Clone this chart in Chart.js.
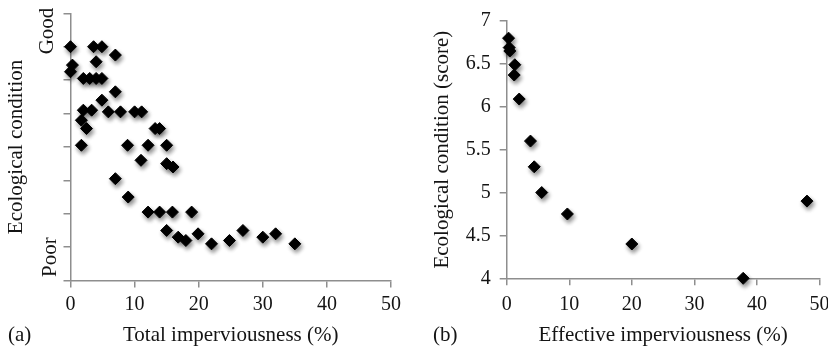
<!DOCTYPE html>
<html><head><meta charset="utf-8">
<script src="https://cdn.jsdelivr.net/npm/chart.js@4"></script>
<style>
html,body{margin:0;padding:0;background:#fff;overflow:hidden;width:828px;height:351px;position:relative;}
#a{position:absolute;left:0;top:0;}
#b{position:absolute;left:410px;top:0;}
</style></head><body>
<canvas id="a" width="410" height="351"></canvas>
<canvas id="b" width="430" height="351"></canvas>
<script>
// Panel (a): total imperviousness vs ecological condition (unitless, Poor..Good)
const totalImperv = [0, 3.6, 4.9, 7, 4, 0.3, 0, 2, 3, 4, 4.9, 7, 4.9, 2, 3.3, 5.9, 7.8, 10, 11.1, 1.7, 2.5, 13.2, 13.9, 1.7, 8.9, 12.1, 15, 11, 15, 16, 7, 9, 12.1, 13.9, 15.9, 18.9, 15, 16.8, 18, 19.9, 22, 24.8, 26.9, 30, 32, 35];
const conditionA  = [7, 7, 7, 6.75, 6.55, 6.45, 6.25, 6.05, 6.05, 6.05, 6.05, 5.65, 5.4, 5.1, 5.1, 5.05, 5.05, 5.05, 5.05, 4.8, 4.55, 4.55, 4.55, 4.05, 4.05, 4.05, 4.05, 3.6, 3.5, 3.4, 3.05, 2.5, 2.05, 2.05, 2.05, 2.05, 1.5, 1.3, 1.2, 1.4, 1.1, 1.2, 1.5, 1.3, 1.4, 1.1];
const conditionLabels = ['Good', 'Poor'];
const conditionLabelValues = [7.47, 0.7];

// Panel (b): effective imperviousness vs ecological condition score
const effectiveImperv = [0.3, 0.4, 0.5, 1.3, 1.2, 2.0, 3.8, 4.4, 5.6, 9.7, 20.0, 37.8, 48.0];
const conditionScore  = [6.8, 6.69, 6.65, 6.49, 6.37, 6.09, 5.6, 5.3, 5.0, 4.75, 4.4, 4.0, 4.9];

const xTickRange = [0, 50];
const xTickStep = 10;
const scoreRange = [4, 7];
const scoreStep = 0.5;
const panelLabels = ['(a)', '(b)'];
const axisTitles = ['Total imperviousness (%)', 'Ecological condition', 'Effective imperviousness (%)', 'Ecological condition (score)'];

const FONT = "'Liberation Serif', 'Times New Roman', serif";
const TXT = '#141414';
const AX = '#8e8e8e';

const shadow = {
  id: 'shadow',
  beforeDatasetsDraw(c) { const x = c.ctx; x.save(); x.shadowColor = 'rgba(0,0,0,0.45)'; x.shadowBlur = 4; x.shadowOffsetX = 1.5; x.shadowOffsetY = 3; },
  afterDatasetsDraw(c) { c.ctx.restore(); }
};

function textPlugin(idx, withCond) {
  return {
    id: 'txt' + idx,
    afterDraw(c) {
      const ctx = c.ctx;
      ctx.save();
      ctx.fillStyle = TXT;
      ctx.font = '21px ' + FONT;
      ctx.textBaseline = 'middle';
      if (withCond) {
        const ys = c.scales.y;
        const offs = [23.5, 20.5];
        ctx.textAlign = 'center';
        conditionLabels.forEach((t, i) => {
          ctx.save();
          ctx.translate(c.chartArea.left - offs[i], ys.getPixelForValue(conditionLabelValues[i]));
          ctx.rotate(-Math.PI / 2);
          ctx.fillText(t, 0, 0);
          ctx.restore();
        });
      }
      ctx.textAlign = 'left';
      ctx.fillText(panelLabels[idx], idx === 0 ? 8 : 23, 335);
      ctx.restore();
    }
  };
}

function axisCommon() {
  return {
    grid: { drawOnChartArea: false, drawTicks: true, tickLength: 7, color: AX, lineWidth: 1.5 },
    border: { color: AX, width: 1.5 }
  };
}

function dataset(xs, ys) {
  return {
    data: xs.map((x, i) => ({ x: x, y: ys[i] })),
    pointStyle: 'rectRot', pointRadius: 6, pointHoverRadius: 6,
    backgroundColor: '#000', borderColor: '#000', borderWidth: 1, clip: false
  };
}

const plainNum = v => String(Number(v));

new Chart(document.getElementById('a'), {
  type: 'scatter',
  data: { datasets: [dataset(totalImperv, conditionA)] },
  options: {
    responsive: false, animation: false, events: [],
    layout: { padding: { top: 13.3, right: 19, left: 0, bottom: 0 } },
    plugins: { legend: { display: false }, tooltip: { enabled: false } },
    scales: {
      x: Object.assign(axisCommon(), {
        type: 'linear', min: xTickRange[0], max: xTickRange[1],
        ticks: { stepSize: xTickStep, font: { family: FONT, size: 20 }, color: TXT, padding: 5, callback: plainNum },
        title: { display: true, text: axisTitles[0], font: { family: FONT, size: 21 }, color: TXT, padding: { top: 0, bottom: 3.4 } },
        afterFit(s) { s.height = 70.4; }
      }),
      y: Object.assign(axisCommon(), {
        type: 'linear', min: 0, max: 8,
        ticks: { stepSize: 1, display: false },
        title: { display: true, text: axisTitles[1], font: { family: FONT, size: 21 }, color: TXT, padding: { top: 3.4, bottom: 0 } },
        afterFit(s) { s.width = 70.5; }
      })
    }
  },
  plugins: [shadow, textPlugin(0, true)]
});

new Chart(document.getElementById('b'), {
  type: 'scatter',
  data: { datasets: [dataset(effectiveImperv, conditionScore)] },
  options: {
    responsive: false, animation: false, events: [],
    layout: { padding: { top: 14, right: 20.5, left: 0, bottom: 0 } },
    plugins: { legend: { display: false }, tooltip: { enabled: false } },
    scales: {
      x: Object.assign(axisCommon(), {
        type: 'linear', min: xTickRange[0], max: xTickRange[1],
        ticks: { stepSize: xTickStep, font: { family: FONT, size: 20 }, color: TXT, padding: 7.7, callback: plainNum },
        title: { display: true, text: axisTitles[2], font: { family: FONT, size: 21 }, color: TXT, padding: { top: 0, bottom: 3.4 } },
        afterFit(s) { s.height = 72.7; }
      }),
      y: Object.assign(axisCommon(), {
        type: 'linear', min: scoreRange[0], max: scoreRange[1],
        ticks: { stepSize: scoreStep, font: { family: FONT, size: 20 }, color: TXT, padding: 9, callback: plainNum },
        title: { display: true, text: axisTitles[3], font: { family: FONT, size: 21 }, color: TXT, padding: { top: 19.4, bottom: 0 } },
        afterFit(s) { s.width = 96.7; }
      })
    }
  },
  plugins: [shadow, textPlugin(1, false)]
});
</script>
</body></html>
